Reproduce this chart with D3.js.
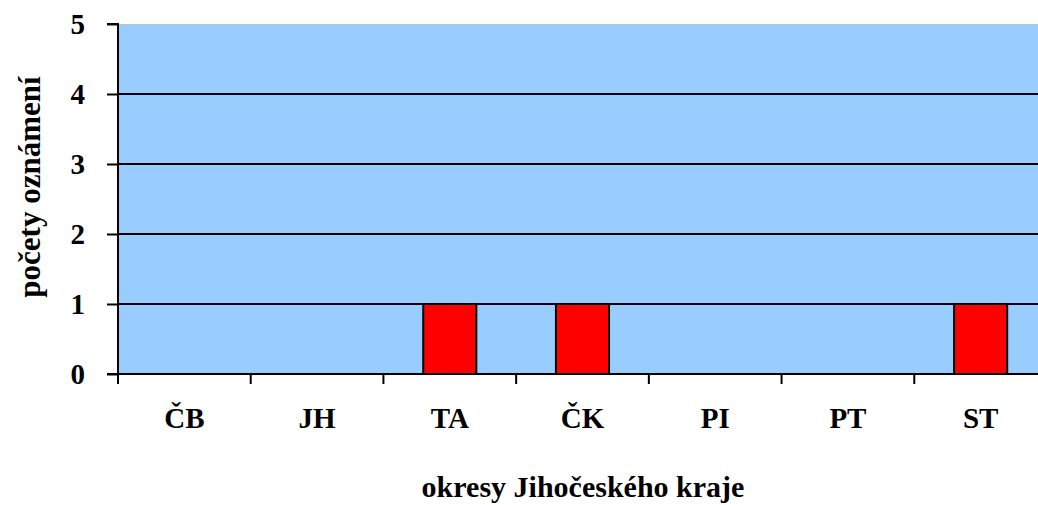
<!DOCTYPE html>
<html>
<head>
<meta charset="utf-8">
<script src="https://cdn.jsdelivr.net/npm/d3@7"></script>
<style>
body { margin: 0; background: #fff; }
svg { display: block; font-family: "Liberation Serif", "Times New Roman", serif; font-weight: bold; }
</style>
</head>
<body>
<div id="chart"></div>
<script>
const categories = ["ČB", "JH", "TA", "ČK", "PI", "PT", "ST"];
const values = [0, 0, 1, 1, 0, 0, 1];
const yTicks = [0, 1, 2, 3, 4, 5];

const width = 1038;
const height = 505;
const margin = {top: 24, bottom: 131, left: 118, right: -9};
const serif = "'Liberation Serif', 'Times New Roman', serif";

const svg = d3.select("#chart")
  .append("svg")
  .attr("width", width)
  .attr("height", height);

const x = d3.scaleBand()
  .domain(categories)
  .range([margin.left, width - margin.right])
  .padding(0);

const y = d3.scaleLinear()
  .domain([0, 5])
  .range([height - margin.bottom, margin.top]);

// plot background
svg.append("rect")
  .attr("x", margin.left)
  .attr("y", y(5))
  .attr("width", width - margin.left)
  .attr("height", y(0) - y(5))
  .attr("fill", "#99ccff");

svg.append("line")
  .attr("x1", margin.left).attr("x2", width)
  .attr("y1", y(5) + 0.5).attr("y2", y(5) + 0.5)
  .attr("stroke", "#b8c8c8")
  .attr("stroke-width", 1);

// gridlines
svg.append("g")
  .selectAll("line")
  .data(yTicks.filter(d => d > 0 && d < 5))
  .join("line")
  .attr("x1", margin.left).attr("x2", width)
  .attr("y1", d => y(d)).attr("y2", d => y(d))
  .attr("stroke", "#000")
  .attr("stroke-width", 2);

// bars
svg.append("g")
  .selectAll("rect")
  .data(categories.map((c, i) => ({name: c, value: values[i]})).filter(d => d.value > 0))
  .join("rect")
  .attr("x", d => x(d.name) + x.bandwidth() * 0.3)
  .attr("y", d => y(d.value))
  .attr("width", x.bandwidth() * 0.4)
  .attr("height", d => y(0) - y(d.value))
  .attr("fill", "#ff0000")
  .attr("stroke", "#000")
  .attr("stroke-width", 2);

// y axis
const yAxis = svg.append("g")
  .attr("transform", `translate(${margin.left}, 0)`)
  .call(d3.axisLeft(y).tickValues(yTicks).tickFormat(d3.format("d")).tickSize(11).tickPadding(22))
  .attr("font-family", serif)
  .attr("font-size", 29);
yAxis.select(".domain").attr("stroke-width", 2).attr("d", `M-11,${y(5)}H0V${y(0)}`);
yAxis.selectAll(".tick line").attr("stroke-width", 2);
yAxis.selectAll(".tick text")
  .attr("fill", "#000")
  .attr("dy", "0.34em");

// x axis
const xTickPos = categories.map(c => x(c)).concat([x(categories[categories.length - 1]) + x.bandwidth()]);
const xAxis = svg.append("g")
  .attr("transform", `translate(0, ${y(0)})`);
xAxis.append("line")
  .attr("x1", margin.left - 11).attr("x2", width)
  .attr("y1", 0).attr("y2", 0)
  .attr("stroke", "#000")
  .attr("stroke-width", 2);
xAxis.selectAll(".xtick")
  .data(xTickPos)
  .join("line")
  .attr("class", "xtick")
  .attr("x1", d => d).attr("x2", d => d)
  .attr("y1", 0).attr("y2", 10)
  .attr("stroke", "#000")
  .attr("stroke-width", 2);
xAxis.selectAll(".xlabel")
  .data(categories)
  .join("text")
  .attr("class", "xlabel")
  .attr("x", d => x(d) + x.bandwidth() / 2)
  .attr("y", 54)
  .attr("text-anchor", "middle")
  .attr("font-size", "29px")
  .text(d => d);

// axis titles
svg.append("text")
  .attr("x", 583)
  .attr("y", 497)
  .attr("text-anchor", "middle")
  .attr("font-size", "30px")
  .text("okresy Jihočeského kraje");

svg.append("text")
  .attr("transform", `translate(40, 187) rotate(-90)`)
  .attr("text-anchor", "middle")
  .attr("font-size", "31px")
  .text("počety oznámení");
</script>
</body>
</html>
